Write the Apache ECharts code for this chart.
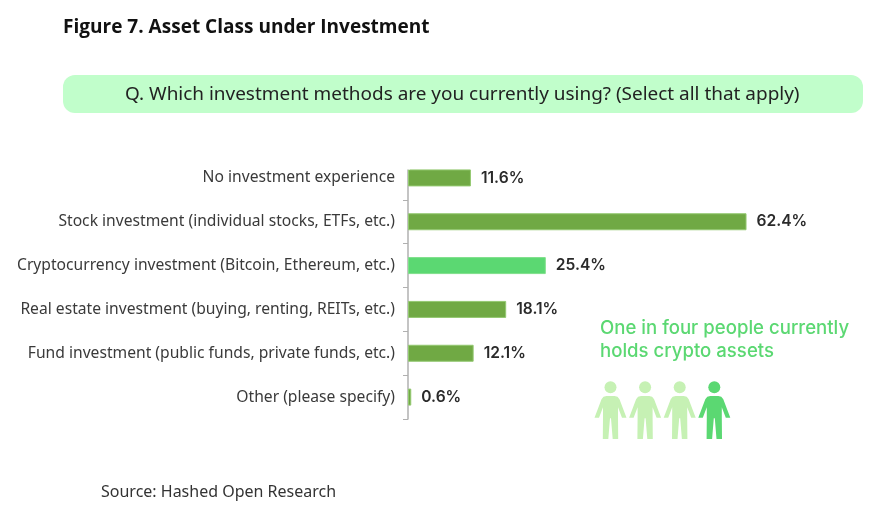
<!DOCTYPE html>
<html><head><meta charset="utf-8">
<style>html,body{margin:0;padding:0;background:#fff}#c{width:883px;height:522px}</style>
<script src="https://cdn.jsdelivr.net/npm/echarts@6/dist/echarts.min.js"></script>
</head><body><div id="c"></div>
<script>
const categories = [
  "No investment experience",
  "Stock investment (individual stocks, ETFs, etc.)",
  "Cryptocurrency investment (Bitcoin, Ethereum, etc.)",
  "Real estate investment (buying, renting, REITs, etc.)",
  "Fund investment (public funds, private funds, etc.)",
  "Other (please specify)"
];
const values = [11.6, 62.4, 25.4, 18.1, 12.1, 0.6];
const highlighted = "Cryptocurrency investment (Bitcoin, Ethereum, etc.)";
const peopleTotal = 4;
const peopleHighlighted = 1;

const GREEN = "#70a944", BRIGHT = "#5bd872", PALE = "#c6f1b4";
const personOutline = [[-4,8.6],[4,8.6],[7,9.5],[9,12],[16,30.4],[11.5,30.4],[7.5,20],[7.5,30],[7.7,51.7],[2.2,51.7],[0.5,31],[-0.5,31],[-2.2,51.7],[-7.7,51.7],[-7.5,30],[-7.5,20],[-11.5,30.4],[-16,30.4],[-9,12],[-7,9.5]];

const people = [];
for (let i = 0; i < peopleTotal; i++) {
  const fill = i >= peopleTotal - peopleHighlighted ? BRIGHT : PALE;
  const x = 610.5 + i * 34.6;
  people.push({type:"circle", shape:{cx:x, cy:387.3, r:6}, style:{fill}});
  people.push({type:"polygon", x, y:387.3, shape:{points:personOutline}, style:{fill}});
}

const chart = echarts.init(document.getElementById("c"), null, {renderer:"canvas"});
chart.setOption({
  animation:false,
  backgroundColor:"#fff",
  grid:{left:408, top:156, width:434, height:263, containLabel:false},
  xAxis:{type:"value", min:0, max:80, show:false},
  yAxis:{
    type:"category", inverse:true, data:categories,
    axisLine:{show:true, lineStyle:{color:"#b0b0b0", width:1.5}},
    axisTick:{show:true, length:5, lineStyle:{color:"#b0b0b0", width:1}},
    axisLabel:{color:"#3a3a3a", fontFamily:"Noto Sans", fontSize:15.65, margin:13, padding:[4,0,0,0]}
  },
  series:[{
    type:"bar", barWidth:17,
    data:categories.map((c,i)=>({
      value:values[i],
      itemStyle:{color:c===highlighted?BRIGHT:GREEN, borderColor:c===highlighted?"#7fdf8a":"#93c870", borderWidth:1}
    })),
    label:{show:true, position:"right", distance:10, formatter:p=>p.value.toFixed(1)+"%", padding:[2,0,0,0],
      color:"#2a2a2a", fontFamily:"Inter", fontSize:15.6, fontWeight:600}
  }],
  graphic:[
    {type:"rect", z:100, shape:{x:400, y:150, width:10, height:19.5}, style:{fill:"#fff"}},
    {type:"text", left:63, top:18, style:{text:"Figure 7. Asset Class under Investment", fontFamily:"Open Sans", fontWeight:700, fontSize:19.05, fill:"#111"}},
    {type:"rect", shape:{x:63, y:75, width:800, height:38, r:12}, style:{fill:"#c1fecb"}},
    {type:"text", left:125, top:85, style:{text:"Q. Which investment methods are you currently using? (Select all that apply)", fontFamily:"Noto Sans", fontSize:18.95, fill:"#222"}},
    {type:"text", left:600, top:319, style:{text:"One in four people currently", fontFamily:"Inter", fontWeight:500, fontSize:18.6, fill:BRIGHT}},
    {type:"text", left:600, top:342, style:{text:"holds crypto assets", fontFamily:"Inter", fontWeight:500, fontSize:18.6, fill:BRIGHT}},
    {type:"text", left:101, top:484, style:{text:"Source: Hashed Open Research", fontFamily:"Noto Sans", fontSize:16, fill:"#333"}},
    ...people
  ]
});
</script></body></html>
